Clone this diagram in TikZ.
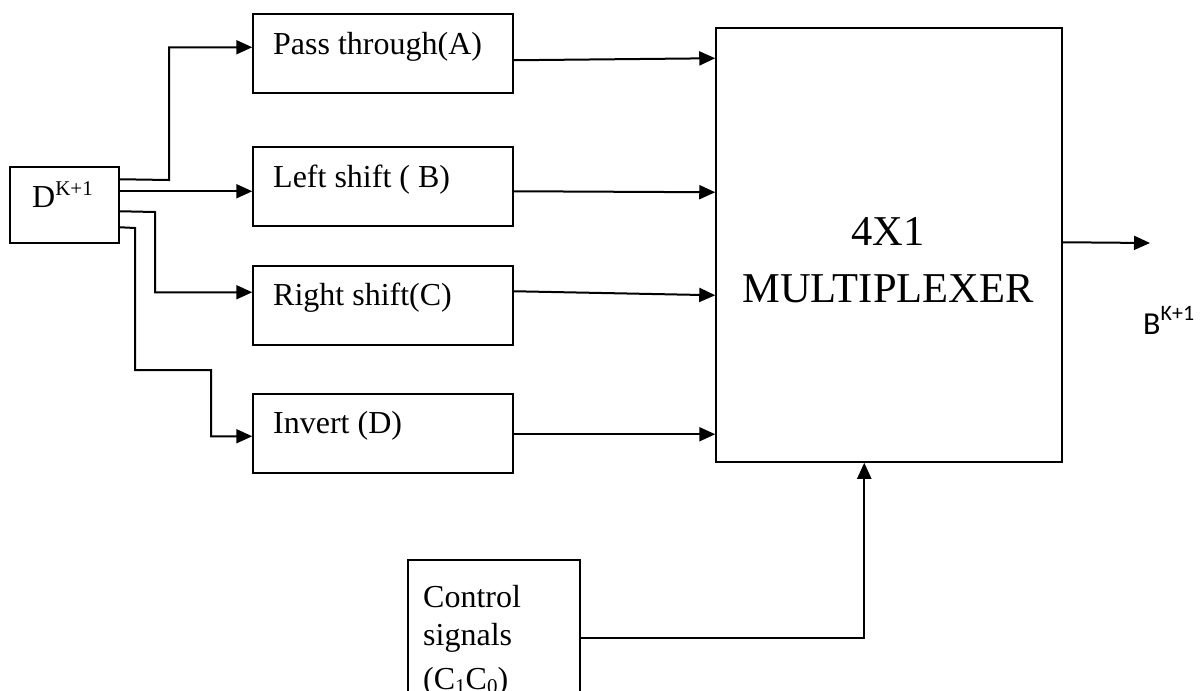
\documentclass[tikz,border=0pt]{standalone}
\usepackage{fontspec}
\setmainfont{Liberation Serif}
\newfontfamily\calib{Carlito}
\usetikzlibrary{arrows.meta,calc}
\begin{document}
\begin{tikzpicture}[x=1pt,y=-1pt,
  box/.style={draw,line width=1.5pt,inner sep=0pt},
  arr/.style={line width=2pt,-{Triangle[length=16pt,width=14pt]}},
  lbl/.style={anchor=base west,inner sep=0pt,font=\fontsize{32}{38}\selectfont},
  mtxt/.style={anchor=base,inner sep=0pt,font=\fontsize{42.5}{50}\selectfont}]
\useasboundingbox (0,0) rectangle (1200,691);
\clip (0,0) rectangle (1200,691);
% boxes
\node[box,minimum width=109pt,minimum height=76pt] (dbox) at (64.5,205) {};
\node[box,minimum width=260pt,minimum height=79pt] (pa) at (383,53.5) {};
\node[box,minimum width=260pt,minimum height=79pt] (lb) at (383,186.5) {};
\node[box,minimum width=260pt,minimum height=79pt] (rs) at (383,305.5) {};
\node[box,minimum width=260pt,minimum height=79pt] (inv) at (383,433.5) {};
\node[box,minimum width=346pt,minimum height=434pt] (mux) at (889,245) {};
\node[box,minimum width=172pt,minimum height=170pt,anchor=north west] (ctl) at (407,559) {};
% texts
\node[lbl] (dt) at (32,207) {D\raisebox{12pt}{\fontsize{21}{21}\selectfont K+1}};
\node[lbl] (pat) at (273,54) {Pass through(A)};
\node[lbl] (lbt) at (273,187) {Left shift ( B)};
\node[lbl] (rst) at (273,305) {Right shift(C)};
\node[lbl] (invt) at (273,433) {Invert (D)};
\node[mtxt] (mux1) at (888,245) {4X1};
\node[mtxt] (mux2) at (888,302) {MULTIPLEXER};
\node[lbl] (ct1) at (423,607) {Control};
\node[lbl] (ct2) at (423,645) {signals};
\node[lbl] (ct3) at (423,689) {(C\raisebox{-4pt}{\fontsize{21}{21}\selectfont 1}C\raisebox{-4pt}{\fontsize{21}{21}\selectfont 0})};
\node[anchor=base west,inner sep=0pt,font=\calib\fontsize{32}{38}\selectfont] (bout) at (1143,334) {B\raisebox{14pt}{\fontsize{22}{24}\selectfont K+1}};
% connectors from D
\draw[arr] ($(dbox.north east)+(0,13)$) -- (169,180) |- ($(pa.north west)+(0,34)$);
\draw[arr] ($(dbox.north east)+(0,25)$) -- ($(lb.north west)+(0,45)$);
\draw[arr] ($(dbox.north east)+(0,45)$) -- (155,212) |- ($(rs.north west)+(0,27)$);
\draw[arr] ($(dbox.north east)+(0,61)$) -- (135,228) -- (135,370) -- (211,370) |- ($(inv.north west)+(0,43)$);
% into mux
\draw[arr] ($(pa.north east)+(0,47)$) -- ($(mux.north west)+(0,31)$);
\draw[arr] ($(lb.north east)+(0,45)$) -- ($(mux.north west)+(0,165)$);
\draw[arr] ($(rs.north east)+(0,26)$) -- ($(mux.north west)+(0,268)$);
\draw[arr] ($(inv.north east)+(0,41)$) -- ($(mux.north west)+(0,407)$);
% output
\coordinate (out) at (1150,243);
\draw[arr] ($(mux.north east)+(0,215)$) -- (out);
% control
\draw[arr] ($(ctl.north east)+(0,79)$) -| ($(mux.south west)+(149,0)$);
\end{tikzpicture}
\end{document}
